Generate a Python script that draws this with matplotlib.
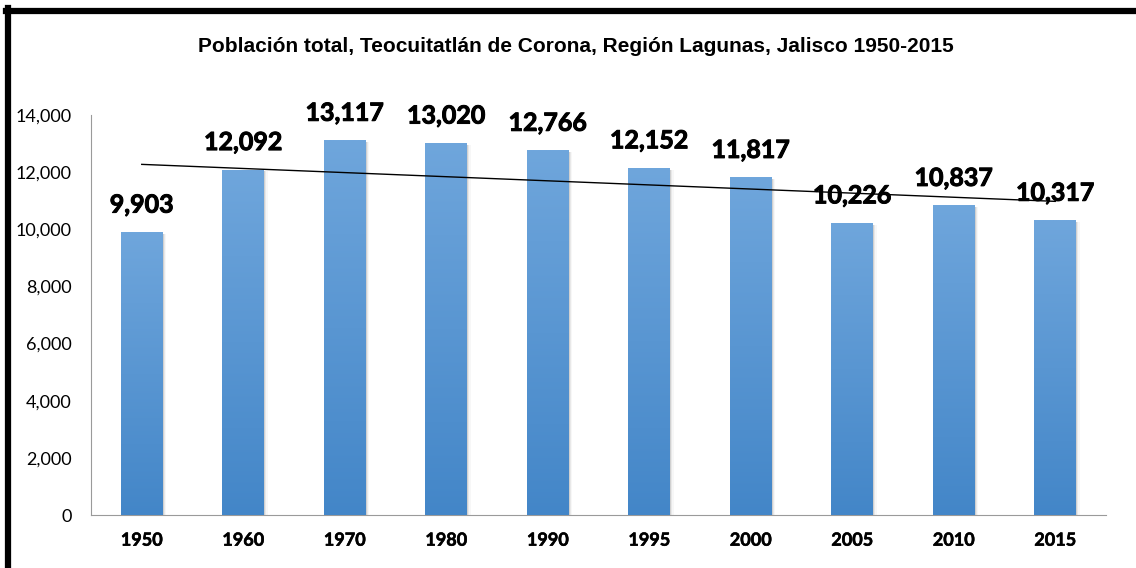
import numpy as np
import matplotlib
matplotlib.use("Agg")
from matplotlib import pyplot as plt
from matplotlib import patheffects as pe
from matplotlib.patches import Rectangle
from matplotlib.colors import LinearSegmentedColormap
from matplotlib.ticker import FuncFormatter


years = ["1950", "1960", "1970", "1980", "1990", "1995", "2000", "2005", "2010", "2015"]
population = [9903, 12092, 13117, 13020, 12766, 12152, 11817, 10226, 10837, 10317]
title = "Población total, Teocuitatlán de Corona, Región Lagunas, Jalisco 1950-2015"


def main():
    fig = plt.figure(figsize=(11.36, 5.68), dpi=100)
    ax = fig.add_axes([91 / 1136, 1 - 515 / 568, 1015 / 1136, 400 / 568])

    x = np.arange(len(years))
    bars = ax.bar(x, population, width=0.41, color="none", zorder=3)

    # blue gradient fill, lighter on top, plus a soft shadow on the right
    cmap = LinearSegmentedColormap.from_list("blu", ["#4386c8", "#6fa6dc"])
    grad = np.linspace(0, 1, 256).reshape(-1, 1)
    for b in bars:
        bx, bw, bh = b.get_x(), b.get_width(), b.get_height()
        for i, a in enumerate([0.10, 0.06, 0.03]):
            ax.add_patch(Rectangle((bx + 0.012 * (i + 1), -60), bw, bh,
                                   facecolor="black", alpha=a, lw=0, zorder=2))
        im = ax.imshow(grad, cmap=cmap, origin="lower", aspect="auto",
                       extent=[bx, bx + bw, 0, bh], zorder=3)
        im.set_clip_path(b)

    # data labels (a thin stroke makes them as heavy as the original)
    heavy = [pe.withStroke(linewidth=0.7, foreground="black")]
    for xi, v in zip(x, population):
        ax.annotate(f"{v:,}", (xi, v), xytext=(0, 14), textcoords="offset points",
                    ha="center", va="baseline", fontsize=18, fontweight="bold",
                    family="Lato", zorder=5, path_effects=heavy)

    # linear trend line
    k, c = np.polyfit(x, population, 1)
    ax.plot(x, k * x + c, color="black", lw=1.0, zorder=4)

    ax.set_xlim(-0.5, len(years) - 0.5)
    ax.set_ylim(0, 14000)
    ax.set_yticks(range(0, 14001, 2000))
    ax.yaxis.set_major_formatter(FuncFormatter(lambda v, p: f"{int(v):,}"))
    ax.set_xticks(x)
    ax.set_xticklabels(years)
    ax.tick_params(axis="y", length=0, pad=14, labelsize=13)
    ax.tick_params(axis="x", length=0, pad=12, labelsize=13)
    for lab in ax.get_yticklabels():
        lab.set_family("Lato")
    for lab in ax.get_xticklabels():
        lab.set_family("Lato")
        lab.set_fontweight("bold")
        lab.set_path_effects([pe.withStroke(linewidth=0.4, foreground="black")])

    for s in ["top", "right"]:
        ax.spines[s].set_visible(False)
    ax.spines["left"].set_color("#9a9a9a")
    ax.spines["bottom"].set_color("#9a9a9a")

    fig.text(576 / 1136, 1 - 46 / 568, title, ha="center", va="center",
             fontsize=15, fontweight="bold", family="Liberation Sans")

    # thick chart border (only left and top are visible in the crop)
    fig.add_artist(plt.Line2D([8 / 1136, 8 / 1136], [0, 1 - 8 / 568],
                              color="black", lw=4.5, transform=fig.transFigure))
    fig.add_artist(plt.Line2D([6 / 1136, 1], [1 - 11 / 568, 1 - 11 / 568],
                              color="black", lw=4.5, transform=fig.transFigure))

    fig.savefig("out.png", dpi=100)


if __name__ == "__main__":
    main()
